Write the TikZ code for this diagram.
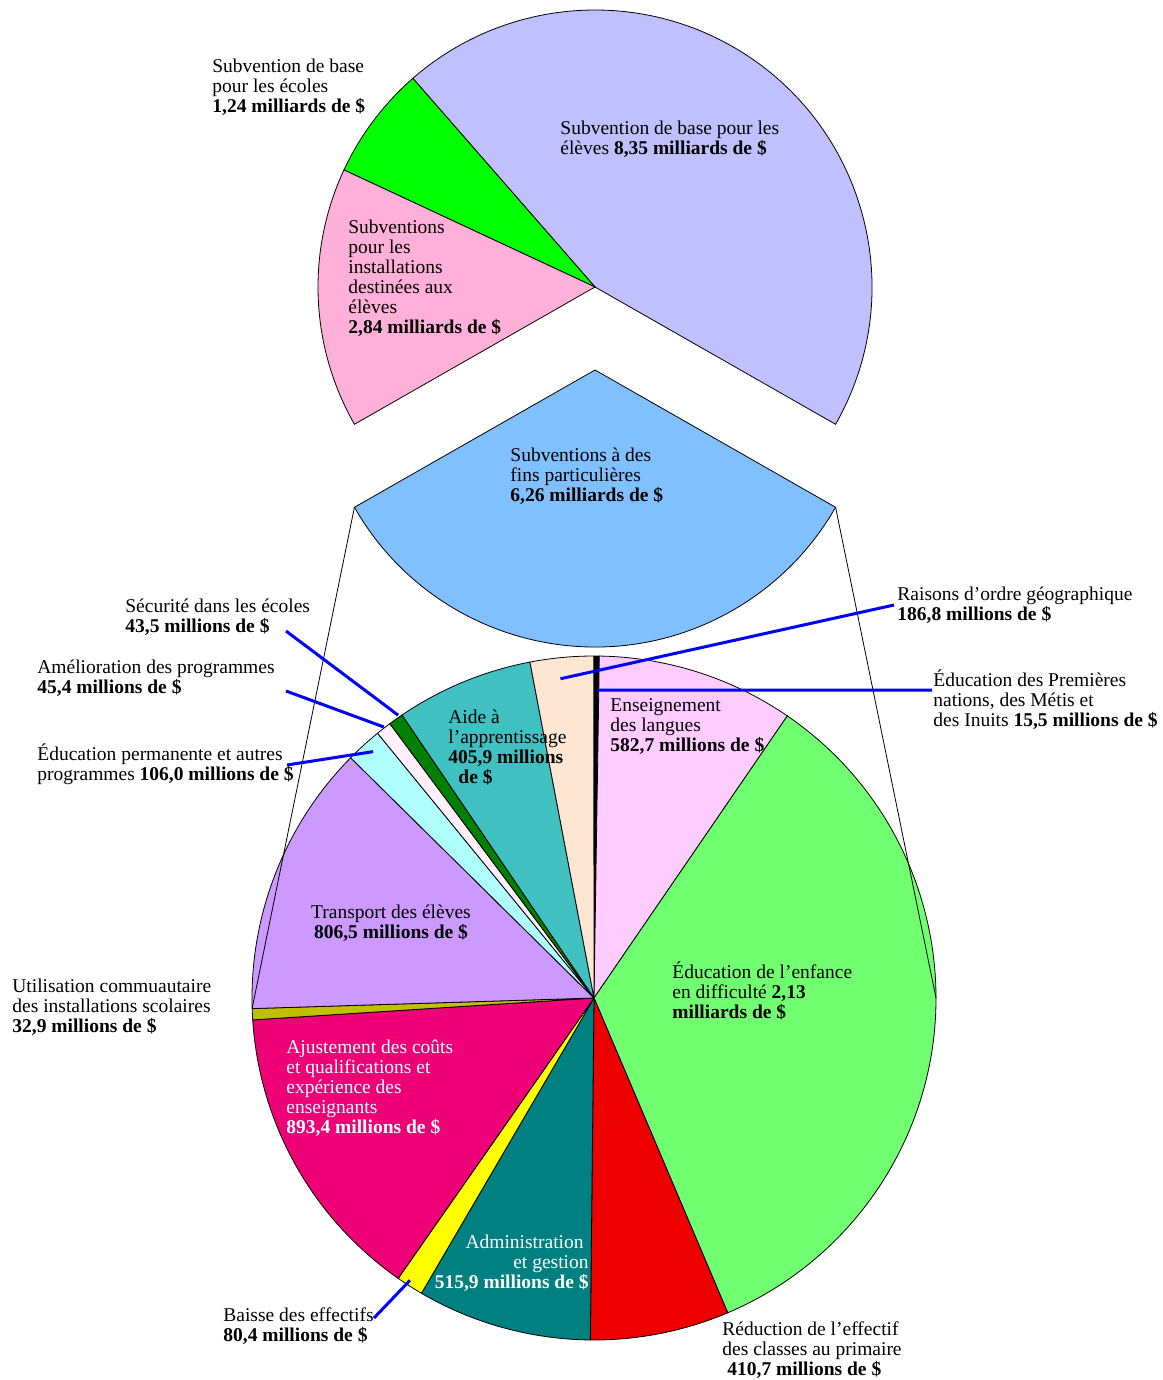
\documentclass[tikz,border=0pt]{standalone}
\usepackage{fontspec}
\setmainfont{Liberation Serif}
\usepackage{xcolor}
\usetikzlibrary{calc}
\usetikzlibrary{positioning}

\definecolor{baseeleves}{HTML}{C0C0FF}
\definecolor{baseecoles}{HTML}{00FF00}
\definecolor{installations}{HTML}{FFB0D8}
\definecolor{particulieres}{HTML}{80C0FF}
\definecolor{langues}{HTML}{FFCCFF}
\definecolor{enfance}{HTML}{70FF70}
\definecolor{reduction}{HTML}{EE0000}
\definecolor{admin}{HTML}{008080}
\definecolor{baisse}{HTML}{FFFF00}
\definecolor{ajust}{HTML}{EE0077}
\definecolor{commu}{HTML}{C0C000}
\definecolor{transport}{HTML}{CC99FF}
\definecolor{permanente}{HTML}{B0FFFF}
\definecolor{amelior}{HTML}{FFF0FA}
\definecolor{securite}{HTML}{008000}
\definecolor{aide}{HTML}{40C0C0}
\definecolor{geo}{HTML}{FFE6D2}
\definecolor{leadblue}{HTML}{0000FF}

\begin{document}
\begin{tikzpicture}[x=1pt, y=1pt, line width=0.8pt, font=\fontsize{19.5}{20}\selectfont]
    \tikzstyle{slice}=[draw=black, line width=0.8pt]
    \tikzstyle{lbl}=[anchor=base west, inner sep=0pt, align=left]
    \tikzstyle{lead}=[draw=leadblue, line width=3pt]

    \useasboundingbox (0,0) rectangle (1162,-1380);
    \coordinate (T) at (595,-287);
    \coordinate (Tx) at (595,-370);
    \coordinate (B) at (594,-998);

    % top pie, special purpose slice pulled out
    \filldraw[slice, fill=baseeleves] (T) -- ++(-29.71:277) arc[start angle=-29.71, end angle=131.12, radius=277] -- cycle;
    \filldraw[slice, fill=baseecoles] (T) -- ++(131.12:277) arc[start angle=131.12, end angle=155.0, radius=277] -- cycle;
    \filldraw[slice, fill=installations] (T) -- ++(155.0:277) arc[start angle=155.0, end angle=209.71, radius=277] -- cycle;
    \filldraw[slice, fill=particulieres] (Tx) -- ++(-150.29:277) arc[start angle=-150.29, end angle=-29.71, radius=277] -- cycle;

    % bottom pie, clockwise from the top
    \foreach \v/\c [remember=\e as \s (initially 90), evaluate=\v as \e using \s-\v*0.05754844] in
        {15.5/black, 582.7/langues, 2130/enfance, 410.7/reduction, 515.9/admin, 80.4/baisse,
         893.4/ajust, 32.9/commu, 806.5/transport, 106.0/permanente, 45.4/amelior,
         43.5/securite, 405.9/aide, 186.8/geo}
        \filldraw[slice, fill=\c] (B) -- ++(\s:342) arc[start angle=\s, end angle=\e, radius=342] -- cycle;

    % connectors between the two pies
    \coordinate (partL) at ($(Tx)+(-150.29:277)$);
    \coordinate (partR) at ($(Tx)+(-29.71:277)$);
    \coordinate (botL) at ($(B)+(181.7:342)$);
    \coordinate (botR) at ($(B)+(0:342)$);
    \draw (partL) -- (botL);
    \draw (partR) -- (botR);

    % labels (placed by the baseline of their last line)
    \node[lbl] (ecoles) at (212,-113) {Subvention de base\\pour les écoles\\\textbf{1,24 milliards de \$}};
    \node[lbl] (eleves) at (560,-155) {Subvention de base pour les\\élèves \textbf{8,35 milliards de \$}};
    \node[lbl] (inst) at (348,-333) {Subventions\\pour les\\installations\\destinées aux\\élèves\\\textbf{2,84 milliards de \$}};
    \node[lbl] (part) at (510,-501) {Subventions à des\\fins particulières\\\textbf{6,26 milliards de \$}};

    \node[lbl] (geo) at (897,-620) {Raisons d’ordre géographique\\\textbf{186,8 millions de \$}};
    \node[lbl] (pn) at (933,-726) {Éducation des Premières\\nations, des Métis et\\des Inuits \textbf{15,5 millions de \$}};
    \node[lbl] (lang) at (610,-751) {Enseignement\\des langues\\\textbf{582,7 millions de \$}};
    \node[lbl] (aide) at (448,-783) {Aide à\\l’apprentissage\\\textbf{405,9 millions}\\\hspace*{10pt}\textbf{de \$}};
    \node[lbl] (secu) at (125,-632) {Sécurité dans les écoles\\\textbf{43,5 millions de \$}};
    \node[lbl] (amel) at (37,-693) {Amélioration des programmes\\\textbf{45,4 millions de \$}};
    \node[lbl] (perm) at (37,-780) {Éducation permanente et autres\\programmes \textbf{106,0 millions de \$}};
    \node[lbl, anchor=base, align=center] (transp) at (391,-938) {Transport des élèves\\\textbf{806,5 millions de \$}};
    \node[lbl] (enf) at (672,-1018) {Éducation de l’enfance\\en difficulté \textbf{2,13}\\\textbf{milliards de \$}};
    \node[lbl] (util) at (12,-1032) {Utilisation commuautaire\\des installations scolaires\\\textbf{32,9 millions de \$}};
    \node[lbl, text=white] (ajust) at (286,-1133) {Ajustement des coûts\\et qualifications et\\expérience des\\enseignants\\\textbf{893,4 millions de \$}};
    \node[lbl, anchor=base east, align=right, text=white] (admin) at (589,-1288) {Administration\hspace*{5pt}\\et gestion\hspace*{5pt}\\\textbf{515,9 millions de \$}};
    \node[lbl] (baisse) at (223,-1341) {Baisse des effectifs\\\textbf{80,4 millions de \$}};
    \node[lbl] (reduc) at (722,-1375) {Réduction de l’effectif\\des classes au primaire\\\hspace*{5pt}\textbf{410,7 millions de \$}};

    % leader lines
    \path (B) ++(96:321) coordinate (geo-pt);
    \path (B) ++(89.3:308) coordinate (pn-pt);
    \path (B) ++(124.7:344) coordinate (secu-pt);
    \path (B) ++(127.8:343) coordinate (amel-pt);
    \path (B) ++(131.9:331) coordinate (perm-pt);
    \path (B) ++(-123.1:337) coordinate (baisse-pt);
    \coordinate (geo-end) at (894,-605);
    \coordinate (pn-end) at (932,-690);
    \coordinate (secu-end) at (286,-631);
    \coordinate (amel-end) at (286,-691);
    \coordinate (perm-end) at (287,-765);
    \coordinate (baisse-end) at (374,-1318);
    \draw[lead] (geo-pt) -- (geo-end);
    \draw[lead] (pn-pt) -- (pn-end);
    \draw[lead] (secu-pt) -- (secu-end);
    \draw[lead] (amel-pt) -- (amel-end);
    \draw[lead] (perm-pt) -- (perm-end);
    \draw[lead] (baisse-pt) -- (baisse-end);
\end{tikzpicture}
\end{document}
